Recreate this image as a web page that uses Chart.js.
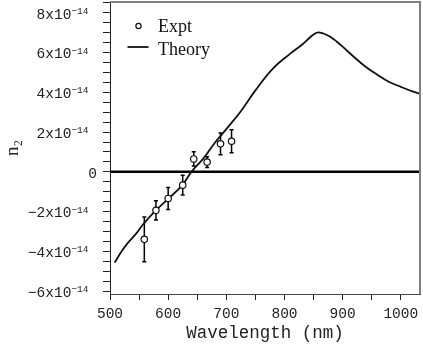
<!DOCTYPE html>
<html>
<head>
<meta charset="utf-8">
<script src="https://cdn.jsdelivr.net/npm/chart.js@4.4.1/dist/chart.umd.min.js"></script>
<style>
  html, body { margin: 0; padding: 0; background: #fff; }
</style>
</head>
<body>
<canvas id="myChart" width="423" height="346"></canvas>
<script>
// n2 values are in units of 1e-14
const exptWl = [559, 579, 600, 625, 644, 667, 690, 709];
const exptN2 = [-3.40, -1.94, -1.34, -0.67, 0.65, 0.49, 1.41, 1.54];
const exptErr = [1.13, 0.48, 0.55, 0.50, 0.36, 0.27, 0.55, 0.58];

const theoryWl = [508, 520, 530, 546, 557, 578, 600, 624, 640, 660, 680, 700, 725, 750, 780, 810, 830, 845, 852, 858, 865, 872, 880, 890, 900, 920, 940, 960, 980, 1000, 1020, 1035];
const theoryN2 = [-4.57, -4.0, -3.6, -3.07, -2.64, -1.97, -1.36, -0.68, 0.0, 0.65, 1.45, 2.15, 3.05, 4.1, 5.2, 5.95, 6.4, 6.8, 6.95, 7.02, 6.98, 6.9, 6.78, 6.55, 6.3, 5.77, 5.28, 4.88, 4.52, 4.28, 4.05, 3.92];

const xLabelStep = 100;
const yLabelStep = 2;
const yExponent = '\u221214';

const monoFont = 'Liberation Mono';
const serifFont = 'Liberation Serif';

const framePlugin = {
  id: 'frame',
  beforeDatasetsDraw( chart ) {
    const { ctx, chartArea: a, scales: { x, y } } = chart;
    ctx.save();
    // zero line
    const y0 = y.getPixelForValue( 0 );
    ctx.strokeStyle = '#000';
    ctx.lineWidth = 2.5;
    ctx.beginPath();
    ctx.moveTo( a.left, y0 );
    ctx.lineTo( a.right, y0 );
    ctx.stroke();
    // error bars
    ctx.lineWidth = 1.5;
    exptWl.forEach( ( wl, i ) => {
      const px = x.getPixelForValue( wl );
      const top = y.getPixelForValue( exptN2[i] + exptErr[i] );
      const bot = y.getPixelForValue( exptN2[i] - exptErr[i] );
      ctx.beginPath();
      ctx.moveTo( px, top );
      ctx.lineTo( px, bot );
      ctx.moveTo( px - 2, top );
      ctx.lineTo( px + 2, top );
      ctx.moveTo( px - 2, bot );
      ctx.lineTo( px + 2, bot );
      ctx.stroke();
    } );
    ctx.restore();
  },
  afterDraw( chart ) {
    const { ctx, chartArea: a, scales: { y } } = chart;
    ctx.save();
    // top / right frame
    ctx.strokeStyle = '#808080';
    ctx.lineWidth = 2;
    ctx.beginPath();
    ctx.moveTo( a.left, a.top );
    ctx.lineTo( a.right, a.top );
    ctx.lineTo( a.right, a.bottom );
    ctx.stroke();

    // y tick labels with superscript exponent
    ctx.fillStyle = '#222';
    ctx.textBaseline = 'middle';
    ctx.textAlign = 'right';
    const labelRight = a.left - 21.5;
    y.ticks.forEach( ( t ) => {
      const v = t.value;
      if ( Math.abs( v % yLabelStep ) > 1e-9 ) {
        return;
      }
      const py = y.getPixelForValue( v ) + 2;
      ctx.font = '14.5px "' + monoFont + '"';
      if ( v === 0 ) {
        ctx.fillText( '0', a.left - 13, py );
        return;
      }
      ctx.font = '9.5px "' + monoFont + '"';
      const supW = ctx.measureText( yExponent ).width;
      ctx.fillText( yExponent, labelRight, py - 3.5 );
      ctx.font = '14.5px "' + monoFont + '"';
      ctx.fillText( ( v < 0 ? '\u2212' + ( -v ) : String( v ) ) + 'x10', labelRight - supW, py );
    } );

    // legend
    const ds = chart.data.datasets;
    ctx.textAlign = 'left';
    ctx.fillStyle = '#111';
    ctx.font = '18px "' + serifFont + '"';
    ctx.textBaseline = 'alphabetic';
    ctx.strokeStyle = '#111';
    ctx.lineWidth = 1.2;
    ctx.beginPath();
    ctx.arc( 138.5, 26, 2.6, 0, Math.PI * 2 );
    ctx.stroke();
    ctx.fillText( ds[0].label, 158, 32 );
    ctx.lineWidth = 1.8;
    ctx.beginPath();
    ctx.moveTo( 127.5, 47 );
    ctx.lineTo( 148.5, 47 );
    ctx.stroke();
    ctx.fillText( ds[1].label, 158, 55 );
    ctx.restore();
  },
};

function noPadding( scale ) {
  scale.paddingTop = 0;
  scale.paddingBottom = 0;
  scale.paddingLeft = 0;
  scale.paddingRight = 0;
}

const ctx = document.getElementById( 'myChart' );

new Chart( ctx, {
  type: 'scatter',
  data: {
    datasets: [
      {
        label: 'Expt',
        data: exptWl.map( ( wl, i ) => ( { x: wl, y: exptN2[i] } ) ),
        pointRadius: 3.2,
        pointBorderWidth: 1.2,
        borderColor: '#111',
        backgroundColor: '#fff',
      },
      {
        type: 'line',
        label: 'Theory',
        data: theoryWl.map( ( wl, i ) => ( { x: wl, y: theoryN2[i] } ) ),
        borderColor: '#111',
        borderWidth: 1.8,
        pointRadius: 0,
        tension: 0.4,
        fill: false,
      },
    ],
  },
  options: {
    responsive: false,
    animation: false,
    layout: {
      autoPadding: false,
      padding: { top: 2, right: 3, left: 0, bottom: 0 },
    },
    plugins: {
      legend: { display: false },
      tooltip: { enabled: false },
    },
    scales: {
      x: {
        type: 'linear',
        min: 500,
        max: 1033,
        afterFit( scale ) {
          scale.height = 52;
          noPadding( scale );
        },
        border: { display: true, color: '#444', width: 1 },
        grid: {
          drawOnChartArea: false,
          drawTicks: true,
          tickLength: 6,
          tickColor: '#222',
        },
        ticks: {
          stepSize: 50,
          includeBounds: false,
          autoSkip: false,
          maxRotation: 0,
          padding: 5,
          color: '#222',
          font: { family: monoFont, size: 14.5 },
          callback: ( v ) => ( v % xLabelStep === 0 ? String( v ) : '' ),
        },
        title: {
          display: true,
          text: 'Wavelength (nm)',
          color: '#222',
          font: { family: monoFont, size: 17.5 },
          padding: { top: 0, bottom: 2.5 },
        },
      },
      y: {
        type: 'linear',
        min: -6.15,
        max: 8.55,
        afterFit( scale ) {
          scale.width = 110;
          noPadding( scale );
        },
        border: { display: true, color: '#222', width: 1 },
        grid: {
          drawOnChartArea: false,
          drawTicks: true,
          tickLength: 7,
          tickColor: '#222',
        },
        ticks: {
          stepSize: 0.5,
          includeBounds: false,
          autoSkip: false,
          padding: 14.5,
          callback: () => '',
        },
        title: {
          display: true,
          text: 'n\u2082',
          color: '#222',
          font: { family: serifFont, size: 19 },
          padding: { top: 2, bottom: 0 },
        },
      },
    },
  },
  plugins: [framePlugin],
} );
</script>
</body>
</html>
